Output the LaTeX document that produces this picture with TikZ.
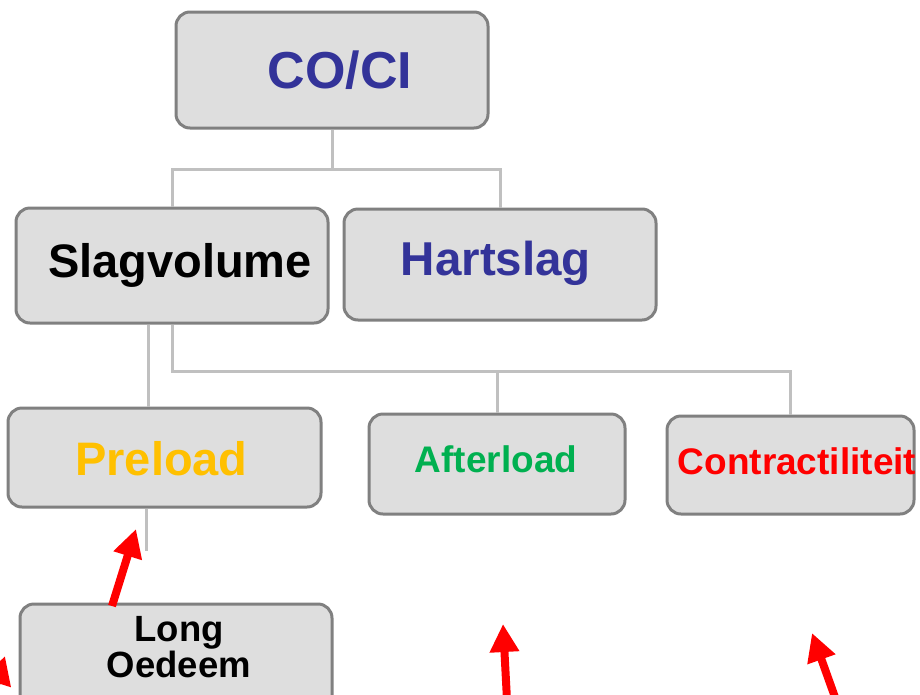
\documentclass[tikz,border=0pt]{standalone}
\usepackage{fontspec}
\setmainfont{Liberation Sans}
\usetikzlibrary{arrows.meta,calc}
\definecolor{boxfill}{HTML}{DEDEDE}
\definecolor{boxline}{HTML}{808080}
\definecolor{connc}{HTML}{C0C0C0}
\definecolor{navy}{HTML}{333399}
\definecolor{gold}{HTML}{FFC000}
\definecolor{grn}{HTML}{00B050}
\definecolor{redc}{HTML}{FF0000}
\tikzset{
  box/.style={draw=boxline, fill=boxfill, line width=3pt, rounded corners=14pt, inner sep=0pt},
  lbl/.style={anchor=base, inner sep=0pt, font=\bfseries},
  conn/.style={draw=connc, line width=3pt},
  redarrow/.style={draw=redc, line width=8pt, -{Triangle[width=28pt,length=28pt]}, redc},
}
\begin{document}
\begin{tikzpicture}[x=1pt,y=-1pt]
\useasboundingbox (0,0) rectangle (920,694);
\begin{scope}
\clip (0,0) rectangle (920,694);
% boxes
\node[box, minimum width=312pt, minimum height=116pt] (coci) at (332,70) {};
\node[box, minimum width=312pt, minimum height=115pt] (slag) at (172,265.5) {};
\node[box, minimum width=312pt, minimum height=111pt] (hart) at (500,264.5) {};
\node[box, minimum width=313pt, minimum height=99pt] (pre) at (164.5,457.5) {};
\node[box, minimum width=256pt, minimum height=100pt] (after) at (497,464) {};
\node[box, minimum width=247pt, minimum height=98pt] (contr) at (790.5,465) {};
\node[box, minimum width=312pt, minimum height=110pt] (long) at (176,659) {};
% labels
\node[lbl, text=navy, font=\bfseries\fontsize{52}{60}\selectfont] (tcoci) at (340,88) {CO/CI};
\node[lbl, text=black, font=\bfseries\fontsize{47}{56}\selectfont] (tslag) at (180,277) {Slagvolume};
\node[lbl, text=navy, font=\bfseries\fontsize{47.5}{56}\selectfont] (thart) at (496,275) {Hartslag};
\node[lbl, text=gold, font=\bfseries\fontsize{47}{56}\selectfont] (tpre) at (161.5,475) {Preload};
\node[lbl, text=grn, font=\bfseries\fontsize{37}{44}\selectfont] (tafter) at (496,472) {Afterload};
\node[lbl, text=redc, font=\bfseries\fontsize{37}{44}\selectfont] (tcontr) at (797,474) {Contractiliteit};
\node[lbl, text=black, align=center, font=\bfseries\fontsize{36.5}{36}\selectfont] (tlong) at (179,677) {Long\\Oedeem};
% connectors
\coordinate (j1) at ($(coci.south)+(0,40)$);
\draw[conn] (coci.south) -- (j1) -| (slag.north);
\draw[conn] (j1) -| (hart.north);
\coordinate (s1) at ($(slag.south)+(-24,0)$);
\draw[conn] (s1) -- (s1 |- pre.north);
\coordinate (j2) at ($(slag.south)+(0,47)$);
\draw[conn] (slag.south) -- (j2) -| (after.north);
\draw[conn] (j2) -| (contr.north);
\coordinate (p1) at ($(pre.south)+(-18.5,0)$);
\coordinate (p2) at ($(pre.south)+(-18.5,42)$);
\draw[conn] (p1) -- (p2);
% red arrows
\coordinate (a1s) at (112,606);
\coordinate (a1e) at (136,529);
\coordinate (a2s) at (507,700);
\coordinate (a2e) at (503,624);
\coordinate (a3s) at (836,700);
\coordinate (a3e) at (812,633);
\coordinate (a4s) at (-20,735);
\coordinate (a4e) at (5,656);
\draw[redarrow] (a1s) -- (a1e);
\draw[redarrow] (a2s) -- (a2e);
\draw[redarrow] (a3s) -- (a3e);
\draw[redarrow] (a4s) -- (a4e);
\end{scope}
\end{tikzpicture}
\end{document}
